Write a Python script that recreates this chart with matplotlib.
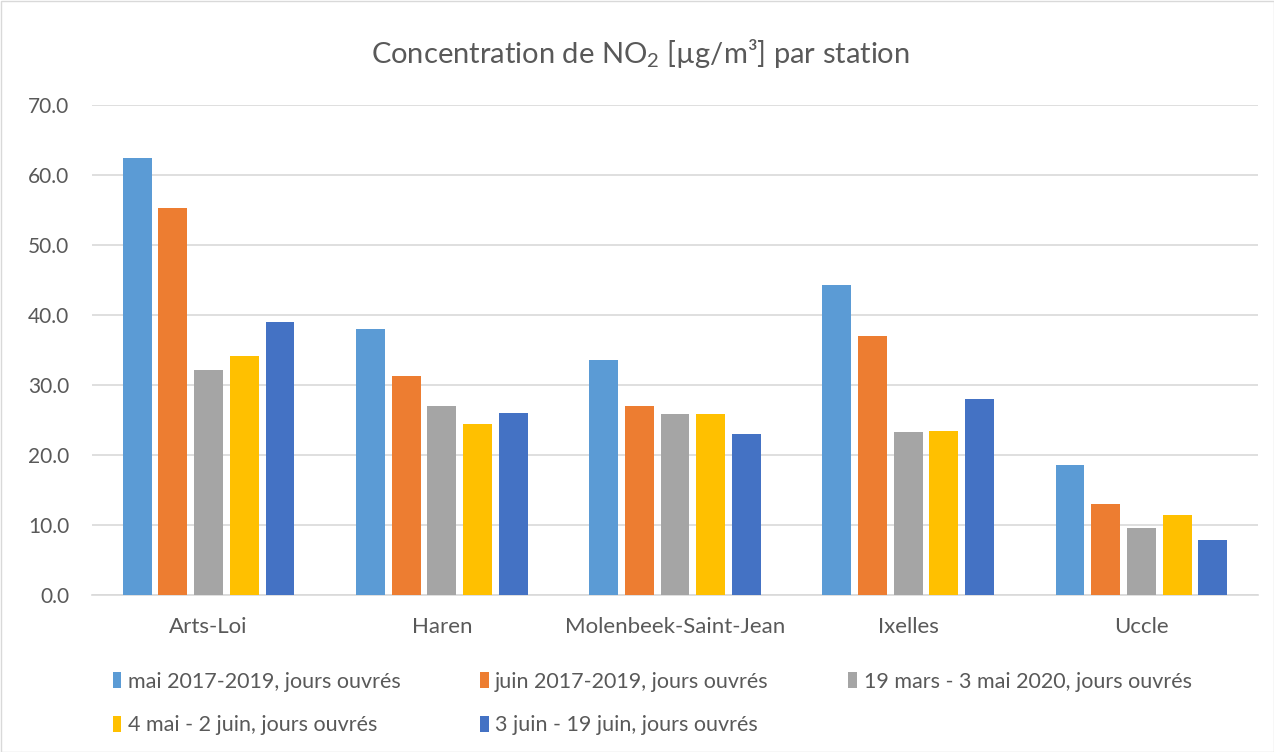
import matplotlib
matplotlib.use("Agg")
import matplotlib.pyplot as plt
import numpy as np
from matplotlib.patches import Rectangle

stations = ["Arts-Loi", "Haren", "Molenbeek-Saint-Jean", "Ixelles", "Uccle"]
series = ["mai 2017-2019, jours ouvrés", "juin 2017-2019, jours ouvrés",
          "19 mars - 3 mai 2020, jours ouvrés", "4 mai - 2 juin, jours ouvrés",
          "3 juin - 19 juin, jours ouvrés"]
mai_1719 = [62.5, 38.0, 33.6, 44.3, 18.6]
juin_1719 = [55.3, 31.3, 27.0, 37.0, 13.0]
mars_mai20 = [32.2, 27.0, 25.9, 23.3, 9.6]
mai_juin20 = [34.2, 24.4, 25.8, 23.4, 11.4]
juin20 = [39.0, 26.0, 23.0, 28.0, 7.9]
colors = ["#5B9BD5", "#ED7D31", "#A5A5A5", "#FFC000", "#4472C4"]

TXT = "#595959"
plt.rcParams["font.family"] = ["Lato", "DejaVu Sans"]

fig = plt.figure(figsize=(12.74, 7.52), dpi=100)
ax = fig.add_axes([92 / 1274, 1 - 595 / 752, (1258 - 92) / 1274, 490 / 752])

x = np.arange(len(stations))
step, width = 0.153, 0.124
data = [mai_1719, juin_1719, mars_mai20, mai_juin20, juin20]
bars = []
for i, (vals, col, lab) in enumerate(zip(data, colors, series)):
    b = ax.bar(x + (i - 2) * step, vals, width, color=col, label=lab, zorder=3)
    bars.append(b)

ax.set_xlim(-0.5, len(stations) - 0.5)
ax.set_ylim(0, 70)
ax.set_yticks(np.arange(0, 71, 10))
ax.set_yticklabels([f"{v:.1f}" for v in np.arange(0, 71, 10)])
ax.set_xticks(x)
ax.set_xticklabels(stations)
ax.grid(axis="y", color="#D9D9D9", linewidth=1.2, zorder=0)
for s in ["top", "right", "left"]:
    ax.spines[s].set_visible(False)
ax.spines["bottom"].set_color("#D9D9D9")
ax.spines["bottom"].set_linewidth(1.2)
ax.tick_params(axis="both", length=0, colors=TXT)
ax.tick_params(axis="y", pad=16.5, labelsize=15)
ax.tick_params(axis="x", pad=16, labelsize=16)

fig.text(0.503, 1 - 53 / 752, r"Concentration de NO$_\mathregular{2}$ [µg/m³] par station",
         ha="center", va="center", fontsize=21, color=TXT)

order = [0, 3, 1, 4, 2]
leg = fig.legend([bars[i] for i in order], [series[i] for i in order],
                 loc="upper left", bbox_to_anchor=(104 / 1274, 1 - 663 / 752),
                 ncol=3, frameon=False, fontsize=15.5, handlelength=0.4,
                 handleheight=0.8, handletextpad=0.3, columnspacing=3.7,
                 labelspacing=1.1, borderaxespad=0)
for t in leg.get_texts():
    t.set_color(TXT)

fig.patches.append(Rectangle((0.5 / 1274, 0.5 / 752), 1 - 1 / 1274, 1 - 1 / 752,
                             transform=fig.transFigure, fill=False,
                             edgecolor="#D9D9D9", linewidth=1))

fig.savefig("out.png", dpi=100)
